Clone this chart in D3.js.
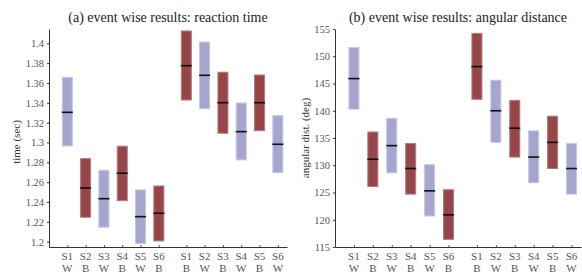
<!DOCTYPE html>
<html>
<head>
<meta charset="utf-8">
<script src="https://cdn.jsdelivr.net/npm/d3@7"></script>
<style>
  body { margin: 0; background: #fff; }
</style>
</head>
<body>
<div id="chart"></div>
<script>
// categorias (grupo 1 y grupo 2)
const subjects = ["S1", "S2", "S3", "S4", "S5", "S6"];
const group1Kind = ["W", "B", "W", "B", "W", "B"];
const group2Kind = ["B", "W", "B", "W", "B", "W"];

// (a) tiempo de reaccion: [abajo, mediana, arriba]
const rtGroup1 = [
  [1.2965, 1.3304, 1.3656],
  [1.2246, 1.2541, 1.2837],
  [1.2145, 1.2433, 1.2720],
  [1.2413, 1.2690, 1.2962],
  [1.1980, 1.2252, 1.2521],
  [1.2007, 1.2286, 1.2561]
];
const rtGroup2 = [
  [1.3428, 1.3774, 1.4124],
  [1.3340, 1.3677, 1.4013],
  [1.3093, 1.3401, 1.3708],
  [1.2824, 1.3109, 1.3398],
  [1.3119, 1.3401, 1.3680],
  [1.2696, 1.2982, 1.3270]
];
const rtTicks = [1.2, 1.22, 1.24, 1.26, 1.28, 1.3, 1.32, 1.34, 1.36, 1.38, 1.4];

// (b) distancia angular
const angGroup1 = [
  [140.3, 145.9, 151.6],
  [126.1, 131.1, 136.1],
  [128.6, 133.6, 138.6],
  [124.7, 129.4, 134.0],
  [120.7, 125.3, 130.1],
  [116.4, 120.9, 125.5]
];
const angGroup2 = [
  [142.1, 148.1, 154.2],
  [134.2, 140.0, 145.6],
  [131.5, 136.8, 141.9],
  [126.8, 131.5, 136.3],
  [129.4, 134.2, 139.0],
  [124.7, 129.4, 134.0]
];
const angTicks = [115, 120, 125, 130, 135, 140, 145, 150, 155];

const W = 582, H = 276;
const FONT = "'Liberation Serif', 'Times New Roman', serif";
const svg = d3.select("#chart").append("svg").attr("width", W).attr("height", H);

const colorFill = { W: "#a5a5d0", B: "#964649" };
const colorEdge = { W: "#c6c6e4", B: "#b5797c" };

function buildRows(g1, g2) {
  const rows = [];
  g1.forEach((d, i) => rows.push({ pos: i, sub: subjects[i], kind: group1Kind[i], lo: d[0], med: d[1], hi: d[2] }));
  g2.forEach((d, i) => rows.push({ pos: i + 6.5, sub: subjects[i], kind: group2Kind[i], lo: d[0], med: d[1], hi: d[2] }));
  return rows;
}

function panel(opts) {
  const g = svg.append("g");
  const x = d3.scaleLinear().domain([-1, 12]).range([opts.x0, opts.x1]);
  const y = d3.scaleLinear().domain(opts.domain).range([247, 29]);
  const rows = buildRows(opts.g1, opts.g2);
  const bw = 10;

  g.selectAll("rect.bar").data(rows).join("rect")
    .attr("class", "bar")
    .attr("x", d => x(d.pos) - bw / 2)
    .attr("width", bw)
    .attr("y", d => y(d.hi))
    .attr("height", d => y(d.lo) - y(d.hi))
    .attr("fill", d => colorFill[d.kind])
    .attr("stroke", d => colorEdge[d.kind])
    .attr("stroke-width", 1);

  g.selectAll("line.med").data(rows).join("line")
    .attr("class", "med")
    .attr("x1", d => x(d.pos) - bw / 2 - 0.5)
    .attr("x2", d => x(d.pos) + bw / 2 + 0.5)
    .attr("y1", d => y(d.med))
    .attr("y2", d => y(d.med))
    .attr("stroke", "#111")
    .attr("stroke-width", 1.6);

  // eje y
  const ya = g.append("g").attr("transform", `translate(${opts.x0},0)`)
    .call(d3.axisLeft(y).tickValues(opts.ticks).tickSize(2).tickSizeOuter(0).tickPadding(3)
      .tickFormat(d => opts.fmt(d)));
  ya.attr("font-family", FONT);
  ya.select(".domain").attr("stroke", "#333");
  ya.selectAll(".tick line").attr("stroke", "#333");
  ya.selectAll("text").attr("font-size", 10.5).attr("fill", "#555").attr("font-family", FONT);

  // eje x
  const xa = g.append("g").attr("transform", `translate(0,247)`)
    .call(d3.axisBottom(x).tickValues(rows.map(d => d.pos)).tickSize(-2).tickSizeOuter(0).tickFormat(""));
  xa.select(".domain").attr("stroke", "#333");
  xa.selectAll(".tick line").attr("stroke", "#555");

  g.selectAll("text.sub").data(rows).join("text")
    .attr("class", "sub")
    .attr("x", d => x(d.pos)).attr("y", 260)
    .attr("text-anchor", "middle").attr("font-size", 11).attr("fill", "#555")
    .attr("font-family", FONT)
    .text(d => d.sub);
  g.selectAll("text.kind").data(rows).join("text")
    .attr("class", "kind")
    .attr("x", d => x(d.pos)).attr("y", 272)
    .attr("text-anchor", "middle").attr("font-size", 11).attr("fill", "#555")
    .attr("font-family", FONT)
    .text(d => d.kind);

  g.append("text")
    .attr("x", (opts.x0 + opts.x1) / 2).attr("y", 22)
    .attr("text-anchor", "middle").attr("font-size", 14).attr("fill", "#222")
    .attr("font-family", FONT)
    .text(opts.title);

  g.append("text")
    .attr("transform", `translate(${opts.labelX},${opts.labelY}) rotate(-90)`)
    .attr("text-anchor", "middle").attr("font-size", 11).attr("fill", "#333")
    .attr("font-family", FONT)
    .text(opts.ylabel);
}

panel({
  x0: 49, x1: 287, domain: [1.1946, 1.4144], ticks: rtTicks,
  fmt: d => d3.format("")(+d.toFixed(2)),
  g1: rtGroup1, g2: rtGroup2,
  title: "(a) event wise results: reaction time",
  ylabel: "time (sec)", labelX: 20, labelY: 142
});

panel({
  x0: 335, x1: 581, domain: [115, 155], ticks: angTicks,
  fmt: d => d,
  g1: angGroup1, g2: angGroup2,
  title: "(b) event wise results: angular distance",
  ylabel: "angular dist. (deg)", labelX: 309, labelY: 138
});
</script>
</body>
</html>
